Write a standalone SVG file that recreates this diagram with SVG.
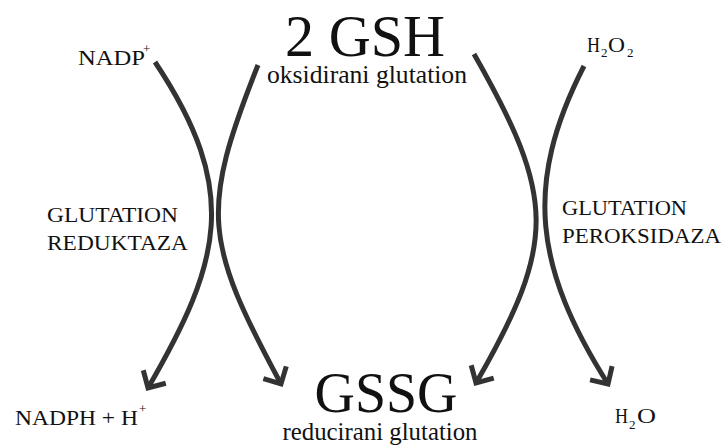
<svg xmlns="http://www.w3.org/2000/svg" width="724" height="448" viewBox="0 0 724 448">
  <style>
    text { font-family: "Liberation Serif", "Times New Roman", serif; fill: #111; }
    .big { font-size: 60px; }
    .big2 { font-size: 58px; }
    .sub { font-size: 25px; }
    .lab { font-size: 22px; }
    .chem { font-size: 20px; }
    .chem2 { font-size: 18px; }
    .sm { font-size: 13px; }
    .conn { fill: none; stroke: #333; stroke-width: 5; stroke-linecap: butt; }
  </style>
  <defs>
    <marker id="arrow" markerUnits="userSpaceOnUse" viewBox="-20 -16 24 32" markerWidth="24" markerHeight="32" refX="0" refY="0" orient="auto">
      <path d="M-13,-13 L0,0 L-13,13" fill="none" stroke="#333" stroke-width="5" stroke-linejoin="miter"/>
    </marker>
  </defs>
  <rect width="724" height="448" fill="#fff"/>

  <g id="connectors">
    <path class="conn" d="M155,62 C241,191 221,262 148,388" marker-end="url(#arrow)"/>
    <path class="conn" d="M258,65 C200,211 204,241 281,384" marker-end="url(#arrow)"/>
    <path class="conn" d="M474,54 C556,198 557,242 476,383" marker-end="url(#arrow)"/>
    <path class="conn" d="M584,66 C523,185 535,268 608,384" marker-end="url(#arrow)"/>
  </g>

  <g id="gsh">
    <text class="big" x="365" y="56" text-anchor="middle" textLength="160" lengthAdjust="spacingAndGlyphs">2 GSH</text>
    <text class="sub" x="367" y="83" text-anchor="middle" textLength="200" lengthAdjust="spacingAndGlyphs">oksidirani glutation</text>
  </g>

  <g id="gssg">
    <text class="big2" x="386" y="412" text-anchor="middle" textLength="143" lengthAdjust="spacingAndGlyphs">GSSG</text>
    <text class="sub" x="380" y="440" text-anchor="middle" textLength="195" lengthAdjust="spacingAndGlyphs">reducirani glutation</text>
  </g>

  <g id="nadp">
    <text class="chem" x="78" y="65" textLength="67" lengthAdjust="spacingAndGlyphs">NADP</text>
    <text class="sm" x="143" y="53">+</text>
  </g>

  <g id="nadph">
    <text class="chem" x="15" y="425" textLength="123" lengthAdjust="spacingAndGlyphs">NADPH + H</text>
    <text class="sm" x="139" y="413">+</text>
  </g>

  <g id="h2o2">
    <text class="chem" x="587" y="52" textLength="13" lengthAdjust="spacingAndGlyphs">H</text>
    <text class="sm" x="601" y="57">2</text>
    <text class="chem" x="608" y="52" textLength="17" lengthAdjust="spacingAndGlyphs">O</text>
    <text class="sm" x="627" y="57">2</text>
  </g>

  <g id="h2o">
    <text class="chem" x="615" y="423" textLength="13" lengthAdjust="spacingAndGlyphs">H</text>
    <text class="sm" x="629" y="429">2</text>
    <text class="chem" x="637" y="423" textLength="19" lengthAdjust="spacingAndGlyphs">O</text>
  </g>

  <g id="glutation-reduktaza">
    <text class="lab" x="47" y="222" textLength="131" lengthAdjust="spacingAndGlyphs">GLUTATION</text>
    <text class="lab" x="47" y="250" textLength="141" lengthAdjust="spacingAndGlyphs">REDUKTAZA</text>
  </g>

  <g id="glutation-peroksidaza">
    <text class="lab" x="562" y="215" textLength="125" lengthAdjust="spacingAndGlyphs">GLUTATION</text>
    <text class="lab" x="562" y="243" textLength="159" lengthAdjust="spacingAndGlyphs">PEROKSIDAZA</text>
  </g>
</svg>
